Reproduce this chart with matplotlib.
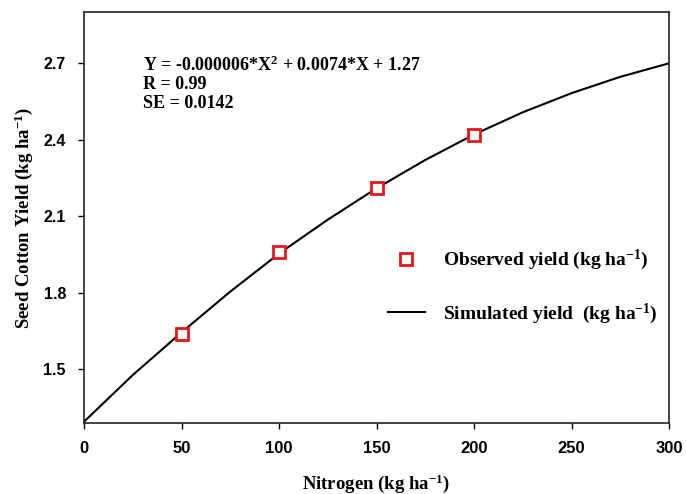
import matplotlib
matplotlib.use("Agg")
import matplotlib.pyplot as plt
from matplotlib.lines import Line2D

# Data
obs_x = [50, 100, 150, 200]
obs_y = [1.64, 1.96, 2.21, 2.42]
sim_x = [0, 25, 50, 75, 100, 125, 150, 175, 200, 225, 250, 275, 300]
sim_y = [1.295, 1.478, 1.645, 1.805, 1.954, 2.087, 2.21, 2.321, 2.421, 2.508, 2.583, 2.647, 2.70]
xticks = [0, 50, 100, 150, 200, 250, 300]
yticks = [1.5, 1.8, 2.1, 2.4, 2.7]

serif = "Liberation Serif"
sans = "Liberation Sans"

plt.rcParams["mathtext.fontset"] = "custom"
plt.rcParams["mathtext.rm"] = "Liberation Serif:bold"
plt.rcParams["mathtext.bf"] = "Liberation Serif:bold"
plt.rcParams["mathtext.it"] = "Liberation Serif:bold"

fig = plt.figure(figsize=(6.86, 4.94), dpi=100)
ax = fig.add_axes([84/686, 1 - 423/494, (669-84)/686, (423-12.3)/494])

ax.plot(sim_x, sim_y, color="black", lw=1.5, zorder=2)
ax.plot(obs_x, obs_y, ls="none", marker="s", ms=8, mfc="white", mec="#e8151b", mew=2, zorder=3)

ax.set_xlim(0, 300)
ax.set_ylim(1.29, 2.9)
ax.set_xticks(xticks)
ax.set_yticks(yticks)
ax.set_xticklabels([str(t) for t in xticks], fontfamily=sans, fontweight="bold", fontsize=12)
ax.set_yticklabels([f"{t:.1f}" for t in yticks], fontfamily=sans, fontweight="bold", fontsize=11.5)
ax.tick_params(direction="out", length=4, width=1, pad=9)
for s in ax.spines.values():
    s.set_linewidth(1.2)
    s.set_color("#222222")

ax.set_xlabel(r"Nitrogen (kg ha$^{\mathbf{-1}}$)", fontfamily=serif, fontweight="bold", fontsize=13.5, labelpad=12)
ax.set_ylabel(r"Seed Cotton Yield (kg ha$^{\mathbf{-1}}$)", fontfamily=serif, fontweight="bold", fontsize=13.5, labelpad=6)

ax.text(0.101, 0.872, r"Y = -0.000006*X$^{\mathbf{2}}$ + 0.0074*X + 1.27", transform=ax.transAxes,
        fontfamily=serif, fontweight="bold", fontsize=13, va="center")
ax.text(0.101, 0.823, "R = 0.99", transform=ax.transAxes,
        fontfamily=serif, fontweight="bold", fontsize=13, va="center")
ax.text(0.101, 0.777, "SE = 0.0142", transform=ax.transAxes,
        fontfamily=serif, fontweight="bold", fontsize=13, va="center")

handles = [
    Line2D([], [], ls="none", marker="s", ms=8, mfc="white", mec="#e8151b", mew=2),
    Line2D([], [], color="black", lw=1.5),
]
labels = [r"Observed yield (kg ha$^{\mathbf{-1}}$)", r"Simulated yield  (kg ha$^{\mathbf{-1}}$)"]
ax.legend(handles, labels, loc="center left", bbox_to_anchor=(0.5197, 0.331), frameon=False,
          prop={"family": serif, "weight": "bold", "size": 14}, handlelength=1.9,
          labelspacing=1.5, handletextpad=0.95, borderpad=0, borderaxespad=0)

fig.savefig("out.png", dpi=100)
